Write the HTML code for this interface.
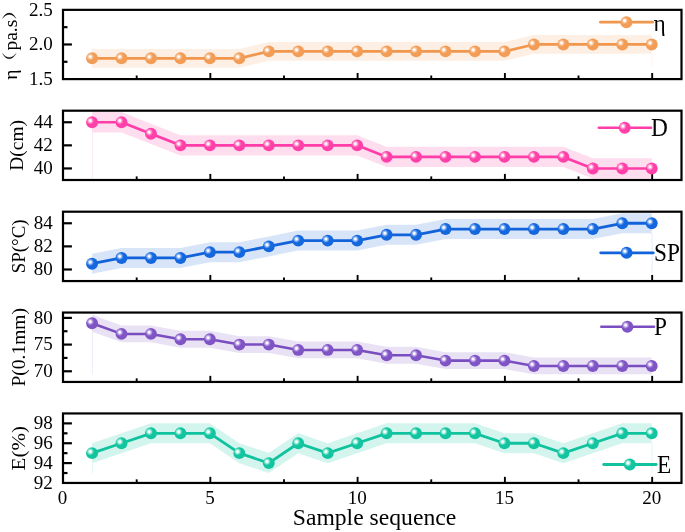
<!DOCTYPE html>
<html><head><meta charset="utf-8"><title>chart</title>
<style>
html,body{margin:0;padding:0;background:#fff;}
body{width:685px;height:532px;position:relative;overflow:hidden;font-family:"Liberation Serif",serif;}
.s{font-family:"Liberation Serif",serif;fill:#000;}
</style></head><body>
<svg width="685" height="532" viewBox="0 0 685 532" style="display:block;position:absolute;left:0;top:0;will-change:transform">
<defs>
<radialGradient id="g_eta" cx="0.35" cy="0.37" r="0.75" fx="0.35" fy="0.37"><stop offset="0" stop-color="#ffffff"/><stop offset="0.09" stop-color="#ffffff" stop-opacity="0.97"/><stop offset="0.24" stop-color="#F7C59B"/><stop offset="0.42" stop-color="#F29C56"/><stop offset="1" stop-color="#F29C56"/></radialGradient>
<clipPath id="c_eta"><rect x="63.0" y="9.85" width="618.5" height="69.25"/></clipPath>
<radialGradient id="g_D" cx="0.35" cy="0.37" r="0.75" fx="0.35" fy="0.37"><stop offset="0" stop-color="#ffffff"/><stop offset="0.09" stop-color="#ffffff" stop-opacity="0.97"/><stop offset="0.24" stop-color="#FF9AD0"/><stop offset="0.42" stop-color="#FF40A9"/><stop offset="1" stop-color="#FF40A9"/></radialGradient>
<clipPath id="c_D"><rect x="63.0" y="110.7" width="618.5" height="69.3"/></clipPath>
<radialGradient id="g_SP" cx="0.35" cy="0.37" r="0.75" fx="0.35" fy="0.37"><stop offset="0" stop-color="#ffffff"/><stop offset="0.09" stop-color="#ffffff" stop-opacity="0.97"/><stop offset="0.24" stop-color="#7FB0F5"/><stop offset="0.42" stop-color="#1567DE"/><stop offset="1" stop-color="#1567DE"/></radialGradient>
<clipPath id="c_SP"><rect x="63.0" y="211.7" width="618.5" height="69.35000000000002"/></clipPath>
<radialGradient id="g_P" cx="0.35" cy="0.37" r="0.75" fx="0.35" fy="0.37"><stop offset="0" stop-color="#ffffff"/><stop offset="0.09" stop-color="#ffffff" stop-opacity="0.97"/><stop offset="0.24" stop-color="#BBA0E6"/><stop offset="0.42" stop-color="#7F54C5"/><stop offset="1" stop-color="#7F54C5"/></radialGradient>
<clipPath id="c_P"><rect x="63.0" y="312.55" width="618.5" height="69.39999999999998"/></clipPath>
<radialGradient id="g_E" cx="0.35" cy="0.37" r="0.75" fx="0.35" fy="0.37"><stop offset="0" stop-color="#ffffff"/><stop offset="0.09" stop-color="#ffffff" stop-opacity="0.97"/><stop offset="0.24" stop-color="#8FE8D2"/><stop offset="0.42" stop-color="#12C4A0"/><stop offset="1" stop-color="#12C4A0"/></radialGradient>
<clipPath id="c_E"><rect x="63.0" y="413.45" width="618.5" height="69.5"/></clipPath>
</defs>
<rect width="685" height="532" fill="#ffffff"/>
<g clip-path="url(#c_eta)">
<polygon points="92.06,48.92 121.51,48.92 150.97,48.92 180.42,48.92 209.88,48.92 239.34,48.92 268.79,42.00 298.25,42.00 327.70,42.00 357.16,42.00 386.62,42.00 416.07,42.00 445.53,42.00 474.98,42.00 504.44,42.00 533.90,35.07 563.35,35.07 592.81,35.07 622.26,35.07 651.72,35.07 651.72,53.87 622.26,53.87 592.81,53.87 563.35,53.87 533.90,53.87 504.44,60.80 474.98,60.80 445.53,60.80 416.07,60.80 386.62,60.80 357.16,60.80 327.70,60.80 298.25,60.80 268.79,60.80 239.34,67.72 209.88,67.72 180.42,67.72 150.97,67.72 121.51,67.72 92.06,67.72" fill="#FDEFE4"/>
<line x1="652.12" y1="53.87" x2="652.12" y2="67.72" stroke="#FDEFE4" stroke-width="1.2" stroke-opacity="0.6"/>
</g>
<line x1="63.0" y1="44.47" x2="71.9" y2="44.47" stroke="#000" stroke-width="2.2"/>
<line x1="63.0" y1="61.79" x2="67.5" y2="61.79" stroke="#000" stroke-width="2.2"/>
<line x1="63.0" y1="27.16" x2="67.5" y2="27.16" stroke="#000" stroke-width="2.2"/>
<line x1="136.69" y1="79.1" x2="136.69" y2="75.50" stroke="#000" stroke-width="1.9"/>
<line x1="210.33" y1="79.1" x2="210.33" y2="73.00" stroke="#000" stroke-width="1.9"/>
<line x1="283.97" y1="79.1" x2="283.97" y2="75.50" stroke="#000" stroke-width="1.9"/>
<line x1="357.61" y1="79.1" x2="357.61" y2="73.00" stroke="#000" stroke-width="1.9"/>
<line x1="431.25" y1="79.1" x2="431.25" y2="75.50" stroke="#000" stroke-width="1.9"/>
<line x1="504.89" y1="79.1" x2="504.89" y2="73.00" stroke="#000" stroke-width="1.9"/>
<line x1="578.53" y1="79.1" x2="578.53" y2="75.50" stroke="#000" stroke-width="1.9"/>
<line x1="652.17" y1="79.1" x2="652.17" y2="73.00" stroke="#000" stroke-width="1.9"/>
<rect x="63.0" y="9.85" width="618.5" height="69.25" fill="none" stroke="#000" stroke-width="2.2"/>
<polyline points="92.06,58.32 121.51,58.32 150.97,58.32 180.42,58.32 209.88,58.32 239.34,58.32 268.79,51.40 298.25,51.40 327.70,51.40 357.16,51.40 386.62,51.40 416.07,51.40 445.53,51.40 474.98,51.40 504.44,51.40 533.90,44.47 563.35,44.47 592.81,44.47 622.26,44.47 651.72,44.47" fill="none" stroke="#F1974D" stroke-width="2.7" stroke-linejoin="round"/>
<circle cx="92.06" cy="58.32" r="5.95" fill="url(#g_eta)"/>
<circle cx="121.51" cy="58.32" r="5.95" fill="url(#g_eta)"/>
<circle cx="150.97" cy="58.32" r="5.95" fill="url(#g_eta)"/>
<circle cx="180.42" cy="58.32" r="5.95" fill="url(#g_eta)"/>
<circle cx="209.88" cy="58.32" r="5.95" fill="url(#g_eta)"/>
<circle cx="239.34" cy="58.32" r="5.95" fill="url(#g_eta)"/>
<circle cx="268.79" cy="51.40" r="5.95" fill="url(#g_eta)"/>
<circle cx="298.25" cy="51.40" r="5.95" fill="url(#g_eta)"/>
<circle cx="327.70" cy="51.40" r="5.95" fill="url(#g_eta)"/>
<circle cx="357.16" cy="51.40" r="5.95" fill="url(#g_eta)"/>
<circle cx="386.62" cy="51.40" r="5.95" fill="url(#g_eta)"/>
<circle cx="416.07" cy="51.40" r="5.95" fill="url(#g_eta)"/>
<circle cx="445.53" cy="51.40" r="5.95" fill="url(#g_eta)"/>
<circle cx="474.98" cy="51.40" r="5.95" fill="url(#g_eta)"/>
<circle cx="504.44" cy="51.40" r="5.95" fill="url(#g_eta)"/>
<circle cx="533.90" cy="44.47" r="5.95" fill="url(#g_eta)"/>
<circle cx="563.35" cy="44.47" r="5.95" fill="url(#g_eta)"/>
<circle cx="592.81" cy="44.47" r="5.95" fill="url(#g_eta)"/>
<circle cx="622.26" cy="44.47" r="5.95" fill="url(#g_eta)"/>
<circle cx="651.72" cy="44.47" r="5.95" fill="url(#g_eta)"/>
<line x1="600.40" y1="22.2" x2="652.60" y2="22.2" stroke="#F1974D" stroke-width="2.7" stroke-linecap="round"/>
<circle cx="626.4" cy="22.2" r="5.95" fill="url(#g_eta)"/>
<text transform="translate(653.6,30.7) scale(1,1.03)" font-size="23.3" class="s">η</text>
<text x="52.7" y="85.00" font-size="19" text-anchor="end" class="s">1.5</text>
<text x="52.7" y="50.37" font-size="19" text-anchor="end" class="s">2.0</text>
<text x="52.7" y="15.75" font-size="19" text-anchor="end" class="s">2.5</text>
<g transform="translate(16.6,44.474999999999994) rotate(-90)">
<text x="-35.4" y="0" font-size="19.5" class="s">η</text>
<text x="-6.1" y="0" font-size="19.5" class="s">pa.s</text>
<path d="M -8.9 -14.1 C -16.1 -10.5 -16.1 -4.2 -8.9 -0.6 C -14.3 -4.4 -14.3 -10.3 -8.9 -14.1 Z" fill="#000" stroke="#000" stroke-width="0.25"/>
<path d="M 26.0 -14.1 C 33.2 -10.5 33.2 -4.2 26.0 -0.6 C 31.4 -4.4 31.4 -10.3 26.0 -14.1 Z" fill="#000" stroke="#000" stroke-width="0.25"/>
</g>
<g clip-path="url(#c_D)">
<polygon points="92.06,112.10 121.51,112.10 150.97,123.65 180.42,135.20 209.88,135.20 239.34,135.20 268.79,135.20 298.25,135.20 327.70,135.20 357.16,135.20 386.62,146.75 416.07,146.75 445.53,146.75 474.98,146.75 504.44,146.75 533.90,146.75 563.35,146.75 592.81,158.30 622.26,158.30 651.72,158.30 651.72,178.60 622.26,178.60 592.81,178.60 563.35,167.05 533.90,167.05 504.44,167.05 474.98,167.05 445.53,167.05 416.07,167.05 386.62,167.05 357.16,155.50 327.70,155.50 298.25,155.50 268.79,155.50 239.34,155.50 209.88,155.50 180.42,155.50 150.97,143.95 121.51,132.40 92.06,132.40" fill="#FEDDEE"/>
<line x1="92.46" y1="132.40" x2="92.46" y2="178.60" stroke="#FEDDEE" stroke-width="1.2" stroke-opacity="0.6"/>
</g>
<line x1="63.0" y1="168.45" x2="71.9" y2="168.45" stroke="#000" stroke-width="2.2"/>
<line x1="63.0" y1="145.35" x2="71.9" y2="145.35" stroke="#000" stroke-width="2.2"/>
<line x1="63.0" y1="122.25" x2="71.9" y2="122.25" stroke="#000" stroke-width="2.2"/>
<line x1="136.69" y1="180.0" x2="136.69" y2="176.40" stroke="#000" stroke-width="1.9"/>
<line x1="210.33" y1="180.0" x2="210.33" y2="173.90" stroke="#000" stroke-width="1.9"/>
<line x1="283.97" y1="180.0" x2="283.97" y2="176.40" stroke="#000" stroke-width="1.9"/>
<line x1="357.61" y1="180.0" x2="357.61" y2="173.90" stroke="#000" stroke-width="1.9"/>
<line x1="431.25" y1="180.0" x2="431.25" y2="176.40" stroke="#000" stroke-width="1.9"/>
<line x1="504.89" y1="180.0" x2="504.89" y2="173.90" stroke="#000" stroke-width="1.9"/>
<line x1="578.53" y1="180.0" x2="578.53" y2="176.40" stroke="#000" stroke-width="1.9"/>
<line x1="652.17" y1="180.0" x2="652.17" y2="173.90" stroke="#000" stroke-width="1.9"/>
<rect x="63.0" y="110.7" width="618.5" height="69.3" fill="none" stroke="#000" stroke-width="2.2"/>
<polyline points="92.06,122.25 121.51,122.25 150.97,133.80 180.42,145.35 209.88,145.35 239.34,145.35 268.79,145.35 298.25,145.35 327.70,145.35 357.16,145.35 386.62,156.90 416.07,156.90 445.53,156.90 474.98,156.90 504.44,156.90 533.90,156.90 563.35,156.90 592.81,168.45 622.26,168.45 651.72,168.45" fill="none" stroke="#FF3CA7" stroke-width="2.65" stroke-linejoin="round"/>
<circle cx="92.06" cy="122.25" r="5.95" fill="url(#g_D)"/>
<circle cx="121.51" cy="122.25" r="5.95" fill="url(#g_D)"/>
<circle cx="150.97" cy="133.80" r="5.95" fill="url(#g_D)"/>
<circle cx="180.42" cy="145.35" r="5.95" fill="url(#g_D)"/>
<circle cx="209.88" cy="145.35" r="5.95" fill="url(#g_D)"/>
<circle cx="239.34" cy="145.35" r="5.95" fill="url(#g_D)"/>
<circle cx="268.79" cy="145.35" r="5.95" fill="url(#g_D)"/>
<circle cx="298.25" cy="145.35" r="5.95" fill="url(#g_D)"/>
<circle cx="327.70" cy="145.35" r="5.95" fill="url(#g_D)"/>
<circle cx="357.16" cy="145.35" r="5.95" fill="url(#g_D)"/>
<circle cx="386.62" cy="156.90" r="5.95" fill="url(#g_D)"/>
<circle cx="416.07" cy="156.90" r="5.95" fill="url(#g_D)"/>
<circle cx="445.53" cy="156.90" r="5.95" fill="url(#g_D)"/>
<circle cx="474.98" cy="156.90" r="5.95" fill="url(#g_D)"/>
<circle cx="504.44" cy="156.90" r="5.95" fill="url(#g_D)"/>
<circle cx="533.90" cy="156.90" r="5.95" fill="url(#g_D)"/>
<circle cx="563.35" cy="156.90" r="5.95" fill="url(#g_D)"/>
<circle cx="592.81" cy="168.45" r="5.95" fill="url(#g_D)"/>
<circle cx="622.26" cy="168.45" r="5.95" fill="url(#g_D)"/>
<circle cx="651.72" cy="168.45" r="5.95" fill="url(#g_D)"/>
<line x1="598.90" y1="127.75" x2="651.00" y2="127.75" stroke="#FF3CA7" stroke-width="2.65" stroke-linecap="round"/>
<circle cx="624.7" cy="127.75" r="5.95" fill="url(#g_D)"/>
<text transform="translate(650.9,136.0) scale(1,1.09)" font-size="23.3" class="s">D</text>
<text x="52.7" y="174.35" font-size="19" text-anchor="end" class="s">40</text>
<text x="52.7" y="151.25" font-size="19" text-anchor="end" class="s">42</text>
<text x="52.7" y="128.15" font-size="19" text-anchor="end" class="s">44</text>
<text transform="translate(22.5,145.35) rotate(-90) scale(1.0,1)" font-size="19.5" text-anchor="middle" class="s">D(cm)</text>
<g clip-path="url(#c_SP)">
<polygon points="92.06,253.71 121.51,247.93 150.97,247.93 180.42,247.93 209.88,242.15 239.34,242.15 268.79,236.38 298.25,230.60 327.70,230.60 357.16,230.60 386.62,224.82 416.07,224.82 445.53,219.04 474.98,219.04 504.44,219.04 533.90,219.04 563.35,219.04 592.81,219.04 622.26,213.26 651.72,213.26 651.72,233.26 622.26,233.26 592.81,239.04 563.35,239.04 533.90,239.04 504.44,239.04 474.98,239.04 445.53,239.04 416.07,244.82 386.62,244.82 357.16,250.60 327.70,250.60 298.25,250.60 268.79,256.38 239.34,262.15 209.88,262.15 180.42,267.93 150.97,267.93 121.51,267.93 92.06,273.71" fill="#D8E5F8"/>
<line x1="652.12" y1="233.26" x2="652.12" y2="273.71" stroke="#D8E5F8" stroke-width="1.2" stroke-opacity="0.6"/>
</g>
<line x1="63.0" y1="269.49" x2="71.9" y2="269.49" stroke="#000" stroke-width="2.2"/>
<line x1="63.0" y1="246.38" x2="71.9" y2="246.38" stroke="#000" stroke-width="2.2"/>
<line x1="63.0" y1="223.26" x2="71.9" y2="223.26" stroke="#000" stroke-width="2.2"/>
<line x1="136.69" y1="281.05" x2="136.69" y2="277.45" stroke="#000" stroke-width="1.9"/>
<line x1="210.33" y1="281.05" x2="210.33" y2="274.95" stroke="#000" stroke-width="1.9"/>
<line x1="283.97" y1="281.05" x2="283.97" y2="277.45" stroke="#000" stroke-width="1.9"/>
<line x1="357.61" y1="281.05" x2="357.61" y2="274.95" stroke="#000" stroke-width="1.9"/>
<line x1="431.25" y1="281.05" x2="431.25" y2="277.45" stroke="#000" stroke-width="1.9"/>
<line x1="504.89" y1="281.05" x2="504.89" y2="274.95" stroke="#000" stroke-width="1.9"/>
<line x1="578.53" y1="281.05" x2="578.53" y2="277.45" stroke="#000" stroke-width="1.9"/>
<line x1="652.17" y1="281.05" x2="652.17" y2="274.95" stroke="#000" stroke-width="1.9"/>
<rect x="63.0" y="211.7" width="618.5" height="69.35000000000002" fill="none" stroke="#000" stroke-width="2.2"/>
<polyline points="92.06,263.71 121.51,257.93 150.97,257.93 180.42,257.93 209.88,252.15 239.34,252.15 268.79,246.38 298.25,240.60 327.70,240.60 357.16,240.60 386.62,234.82 416.07,234.82 445.53,229.04 474.98,229.04 504.44,229.04 533.90,229.04 563.35,229.04 592.81,229.04 622.26,223.26 651.72,223.26" fill="none" stroke="#1263DA" stroke-width="2.8" stroke-linejoin="round"/>
<circle cx="92.06" cy="263.71" r="5.95" fill="url(#g_SP)"/>
<circle cx="121.51" cy="257.93" r="5.95" fill="url(#g_SP)"/>
<circle cx="150.97" cy="257.93" r="5.95" fill="url(#g_SP)"/>
<circle cx="180.42" cy="257.93" r="5.95" fill="url(#g_SP)"/>
<circle cx="209.88" cy="252.15" r="5.95" fill="url(#g_SP)"/>
<circle cx="239.34" cy="252.15" r="5.95" fill="url(#g_SP)"/>
<circle cx="268.79" cy="246.38" r="5.95" fill="url(#g_SP)"/>
<circle cx="298.25" cy="240.60" r="5.95" fill="url(#g_SP)"/>
<circle cx="327.70" cy="240.60" r="5.95" fill="url(#g_SP)"/>
<circle cx="357.16" cy="240.60" r="5.95" fill="url(#g_SP)"/>
<circle cx="386.62" cy="234.82" r="5.95" fill="url(#g_SP)"/>
<circle cx="416.07" cy="234.82" r="5.95" fill="url(#g_SP)"/>
<circle cx="445.53" cy="229.04" r="5.95" fill="url(#g_SP)"/>
<circle cx="474.98" cy="229.04" r="5.95" fill="url(#g_SP)"/>
<circle cx="504.44" cy="229.04" r="5.95" fill="url(#g_SP)"/>
<circle cx="533.90" cy="229.04" r="5.95" fill="url(#g_SP)"/>
<circle cx="563.35" cy="229.04" r="5.95" fill="url(#g_SP)"/>
<circle cx="592.81" cy="229.04" r="5.95" fill="url(#g_SP)"/>
<circle cx="622.26" cy="223.26" r="5.95" fill="url(#g_SP)"/>
<circle cx="651.72" cy="223.26" r="5.95" fill="url(#g_SP)"/>
<line x1="600.70" y1="252.8" x2="653.30" y2="252.8" stroke="#1263DA" stroke-width="2.8" stroke-linecap="round"/>
<circle cx="626.6" cy="252.8" r="5.95" fill="url(#g_SP)"/>
<text transform="translate(654.0,260.7) scale(1,1.09)" font-size="23.3" class="s">SP</text>
<text x="52.7" y="275.39" font-size="19" text-anchor="end" class="s">80</text>
<text x="52.7" y="252.28" font-size="19" text-anchor="end" class="s">82</text>
<text x="52.7" y="229.16" font-size="19" text-anchor="end" class="s">84</text>
<text transform="translate(25.4,246.375) rotate(-90) scale(0.972,1)" font-size="19.5" text-anchor="middle" class="s">SP(°C)</text>
<g clip-path="url(#c_P)">
<polygon points="92.06,314.83 121.51,325.50 150.97,325.50 180.42,330.84 209.88,330.84 239.34,336.18 268.79,336.18 298.25,341.52 327.70,341.52 357.16,341.52 386.62,346.86 416.07,346.86 445.53,352.20 474.98,352.20 504.44,352.20 533.90,357.53 563.35,357.53 592.81,357.53 622.26,357.53 651.72,357.53 651.72,374.33 622.26,374.33 592.81,374.33 563.35,374.33 533.90,374.33 504.44,369.00 474.98,369.00 445.53,369.00 416.07,363.66 386.62,363.66 357.16,358.32 327.70,358.32 298.25,358.32 268.79,352.98 239.34,352.98 209.88,347.64 180.42,347.64 150.97,342.30 121.51,342.30 92.06,331.63" fill="#E9E2F4"/>
<line x1="92.46" y1="331.63" x2="92.46" y2="374.33" stroke="#E9E2F4" stroke-width="1.2" stroke-opacity="0.6"/>
</g>
<line x1="63.0" y1="371.27" x2="71.9" y2="371.27" stroke="#000" stroke-width="2.2"/>
<line x1="63.0" y1="344.58" x2="71.9" y2="344.58" stroke="#000" stroke-width="2.2"/>
<line x1="63.0" y1="317.89" x2="71.9" y2="317.89" stroke="#000" stroke-width="2.2"/>
<line x1="63.0" y1="357.93" x2="67.5" y2="357.93" stroke="#000" stroke-width="2.2"/>
<line x1="63.0" y1="331.23" x2="67.5" y2="331.23" stroke="#000" stroke-width="2.2"/>
<line x1="136.69" y1="381.95" x2="136.69" y2="378.35" stroke="#000" stroke-width="1.9"/>
<line x1="210.33" y1="381.95" x2="210.33" y2="375.85" stroke="#000" stroke-width="1.9"/>
<line x1="283.97" y1="381.95" x2="283.97" y2="378.35" stroke="#000" stroke-width="1.9"/>
<line x1="357.61" y1="381.95" x2="357.61" y2="375.85" stroke="#000" stroke-width="1.9"/>
<line x1="431.25" y1="381.95" x2="431.25" y2="378.35" stroke="#000" stroke-width="1.9"/>
<line x1="504.89" y1="381.95" x2="504.89" y2="375.85" stroke="#000" stroke-width="1.9"/>
<line x1="578.53" y1="381.95" x2="578.53" y2="378.35" stroke="#000" stroke-width="1.9"/>
<line x1="652.17" y1="381.95" x2="652.17" y2="375.85" stroke="#000" stroke-width="1.9"/>
<rect x="63.0" y="312.55" width="618.5" height="69.39999999999998" fill="none" stroke="#000" stroke-width="2.2"/>
<polyline points="92.06,323.23 121.51,333.90 150.97,333.90 180.42,339.24 209.88,339.24 239.34,344.58 268.79,344.58 298.25,349.92 327.70,349.92 357.16,349.92 386.62,355.26 416.07,355.26 445.53,360.60 474.98,360.60 504.44,360.60 533.90,365.93 563.35,365.93 592.81,365.93 622.26,365.93 651.72,365.93" fill="none" stroke="#7A4EC0" stroke-width="2.55" stroke-linejoin="round"/>
<circle cx="92.06" cy="323.23" r="5.95" fill="url(#g_P)"/>
<circle cx="121.51" cy="333.90" r="5.95" fill="url(#g_P)"/>
<circle cx="150.97" cy="333.90" r="5.95" fill="url(#g_P)"/>
<circle cx="180.42" cy="339.24" r="5.95" fill="url(#g_P)"/>
<circle cx="209.88" cy="339.24" r="5.95" fill="url(#g_P)"/>
<circle cx="239.34" cy="344.58" r="5.95" fill="url(#g_P)"/>
<circle cx="268.79" cy="344.58" r="5.95" fill="url(#g_P)"/>
<circle cx="298.25" cy="349.92" r="5.95" fill="url(#g_P)"/>
<circle cx="327.70" cy="349.92" r="5.95" fill="url(#g_P)"/>
<circle cx="357.16" cy="349.92" r="5.95" fill="url(#g_P)"/>
<circle cx="386.62" cy="355.26" r="5.95" fill="url(#g_P)"/>
<circle cx="416.07" cy="355.26" r="5.95" fill="url(#g_P)"/>
<circle cx="445.53" cy="360.60" r="5.95" fill="url(#g_P)"/>
<circle cx="474.98" cy="360.60" r="5.95" fill="url(#g_P)"/>
<circle cx="504.44" cy="360.60" r="5.95" fill="url(#g_P)"/>
<circle cx="533.90" cy="365.93" r="5.95" fill="url(#g_P)"/>
<circle cx="563.35" cy="365.93" r="5.95" fill="url(#g_P)"/>
<circle cx="592.81" cy="365.93" r="5.95" fill="url(#g_P)"/>
<circle cx="622.26" cy="365.93" r="5.95" fill="url(#g_P)"/>
<circle cx="651.72" cy="365.93" r="5.95" fill="url(#g_P)"/>
<line x1="601.30" y1="326.7" x2="654.00" y2="326.7" stroke="#7A4EC0" stroke-width="2.55" stroke-linecap="round"/>
<circle cx="627.4" cy="326.7" r="5.95" fill="url(#g_P)"/>
<text transform="translate(654.0,335.2) scale(1,1.09)" font-size="23.3" class="s">P</text>
<text x="52.7" y="377.17" font-size="19" text-anchor="end" class="s">70</text>
<text x="52.7" y="350.48" font-size="19" text-anchor="end" class="s">75</text>
<text x="52.7" y="323.79" font-size="19" text-anchor="end" class="s">80</text>
<text transform="translate(25.2,347.25) rotate(-90) scale(1.0,1)" font-size="19.5" text-anchor="middle" class="s">P(0.1mm)</text>
<g clip-path="url(#c_E)">
<polygon points="92.06,443.16 121.51,433.24 150.97,423.31 180.42,423.31 209.88,423.31 239.34,443.16 268.79,453.09 298.25,433.24 327.70,443.16 357.16,433.24 386.62,423.31 416.07,423.31 445.53,423.31 474.98,423.31 504.44,433.24 533.90,433.24 563.35,443.16 592.81,433.24 622.26,423.31 651.72,423.31 651.72,443.31 622.26,443.31 592.81,453.24 563.35,463.16 533.90,453.24 504.44,453.24 474.98,443.31 445.53,443.31 416.07,443.31 386.62,443.31 357.16,453.24 327.70,463.16 298.25,453.24 268.79,473.09 239.34,463.16 209.88,443.31 180.42,443.31 150.97,443.31 121.51,453.24 92.06,463.16" fill="#D3F5EE"/>
<line x1="92.46" y1="463.16" x2="92.46" y2="473.09" stroke="#D3F5EE" stroke-width="1.2" stroke-opacity="0.6"/>
<line x1="652.12" y1="443.31" x2="652.12" y2="473.09" stroke="#D3F5EE" stroke-width="1.2" stroke-opacity="0.6"/>
</g>
<line x1="63.0" y1="463.09" x2="71.9" y2="463.09" stroke="#000" stroke-width="2.2"/>
<line x1="63.0" y1="443.24" x2="71.9" y2="443.24" stroke="#000" stroke-width="2.2"/>
<line x1="63.0" y1="423.38" x2="71.9" y2="423.38" stroke="#000" stroke-width="2.2"/>
<line x1="63.0" y1="473.02" x2="67.5" y2="473.02" stroke="#000" stroke-width="2.2"/>
<line x1="63.0" y1="453.16" x2="67.5" y2="453.16" stroke="#000" stroke-width="2.2"/>
<line x1="63.0" y1="433.31" x2="67.5" y2="433.31" stroke="#000" stroke-width="2.2"/>
<line x1="136.69" y1="482.95" x2="136.69" y2="479.35" stroke="#000" stroke-width="1.9"/>
<line x1="210.33" y1="482.95" x2="210.33" y2="476.85" stroke="#000" stroke-width="1.9"/>
<line x1="283.97" y1="482.95" x2="283.97" y2="479.35" stroke="#000" stroke-width="1.9"/>
<line x1="357.61" y1="482.95" x2="357.61" y2="476.85" stroke="#000" stroke-width="1.9"/>
<line x1="431.25" y1="482.95" x2="431.25" y2="479.35" stroke="#000" stroke-width="1.9"/>
<line x1="504.89" y1="482.95" x2="504.89" y2="476.85" stroke="#000" stroke-width="1.9"/>
<line x1="578.53" y1="482.95" x2="578.53" y2="479.35" stroke="#000" stroke-width="1.9"/>
<line x1="652.17" y1="482.95" x2="652.17" y2="476.85" stroke="#000" stroke-width="1.9"/>
<rect x="63.0" y="413.45" width="618.5" height="69.5" fill="none" stroke="#000" stroke-width="2.2"/>
<polyline points="92.06,453.16 121.51,443.24 150.97,433.31 180.42,433.31 209.88,433.31 239.34,453.16 268.79,463.09 298.25,443.24 327.70,453.16 357.16,443.24 386.62,433.31 416.07,433.31 445.53,433.31 474.98,433.31 504.44,443.24 533.90,443.24 563.35,453.16 592.81,443.24 622.26,433.31 651.72,433.31" fill="none" stroke="#10C29E" stroke-width="2.8" stroke-linejoin="round"/>
<circle cx="92.06" cy="453.16" r="5.95" fill="url(#g_E)"/>
<circle cx="121.51" cy="443.24" r="5.95" fill="url(#g_E)"/>
<circle cx="150.97" cy="433.31" r="5.95" fill="url(#g_E)"/>
<circle cx="180.42" cy="433.31" r="5.95" fill="url(#g_E)"/>
<circle cx="209.88" cy="433.31" r="5.95" fill="url(#g_E)"/>
<circle cx="239.34" cy="453.16" r="5.95" fill="url(#g_E)"/>
<circle cx="268.79" cy="463.09" r="5.95" fill="url(#g_E)"/>
<circle cx="298.25" cy="443.24" r="5.95" fill="url(#g_E)"/>
<circle cx="327.70" cy="453.16" r="5.95" fill="url(#g_E)"/>
<circle cx="357.16" cy="443.24" r="5.95" fill="url(#g_E)"/>
<circle cx="386.62" cy="433.31" r="5.95" fill="url(#g_E)"/>
<circle cx="416.07" cy="433.31" r="5.95" fill="url(#g_E)"/>
<circle cx="445.53" cy="433.31" r="5.95" fill="url(#g_E)"/>
<circle cx="474.98" cy="433.31" r="5.95" fill="url(#g_E)"/>
<circle cx="504.44" cy="443.24" r="5.95" fill="url(#g_E)"/>
<circle cx="533.90" cy="443.24" r="5.95" fill="url(#g_E)"/>
<circle cx="563.35" cy="453.16" r="5.95" fill="url(#g_E)"/>
<circle cx="592.81" cy="443.24" r="5.95" fill="url(#g_E)"/>
<circle cx="622.26" cy="433.31" r="5.95" fill="url(#g_E)"/>
<circle cx="651.72" cy="433.31" r="5.95" fill="url(#g_E)"/>
<line x1="603.70" y1="464.5" x2="656.20" y2="464.5" stroke="#10C29E" stroke-width="2.8" stroke-linecap="round"/>
<circle cx="629.8" cy="464.5" r="5.95" fill="url(#g_E)"/>
<text transform="translate(657.0,473.0) scale(1,1.09)" font-size="23.3" class="s">E</text>
<text x="52.7" y="488.85" font-size="19" text-anchor="end" class="s">92</text>
<text x="52.7" y="468.99" font-size="19" text-anchor="end" class="s">94</text>
<text x="52.7" y="449.14" font-size="19" text-anchor="end" class="s">96</text>
<text x="52.7" y="429.28" font-size="19" text-anchor="end" class="s">98</text>
<text transform="translate(25.2,448.2) rotate(-90) scale(1.08,1)" font-size="19.5" text-anchor="middle" class="s">E(%)</text>
<text x="62.60" y="504.0" font-size="19" text-anchor="middle" class="s">0</text>
<text x="209.88" y="504.0" font-size="19" text-anchor="middle" class="s">5</text>
<text x="357.16" y="504.0" font-size="19" text-anchor="middle" class="s">10</text>
<text x="504.44" y="504.0" font-size="19" text-anchor="middle" class="s">15</text>
<text x="651.72" y="504.0" font-size="19" text-anchor="middle" class="s">20</text>
<text x="374.5" y="524.6" font-size="23.65" text-anchor="middle" class="s">Sample sequence</text>
</svg>
</body></html>
